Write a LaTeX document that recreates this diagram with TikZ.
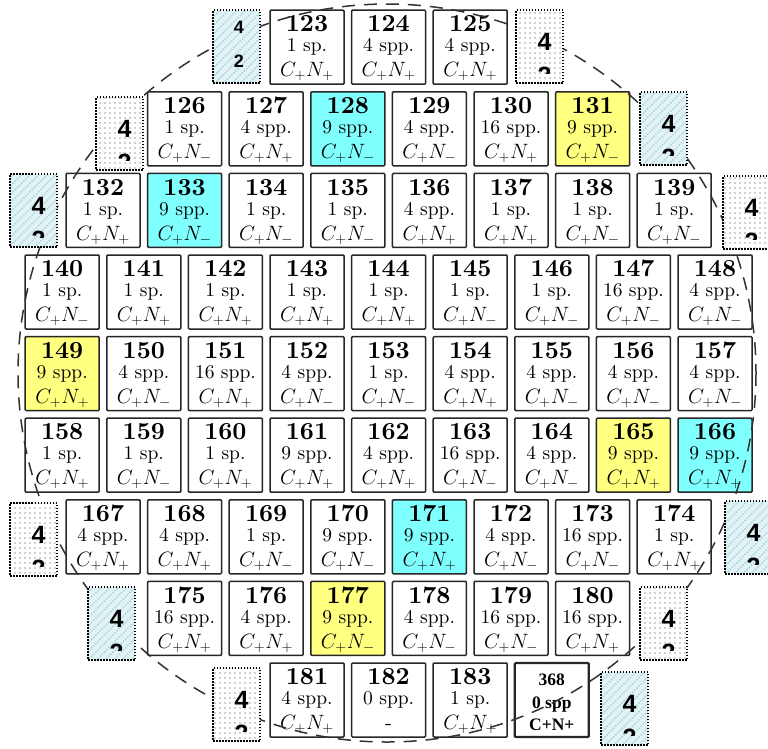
\documentclass[tikz,border=0pt]{standalone}
\usepackage{fontspec}
\setmainfont{lmroman10-regular.otf}[BoldFont=lmroman10-bold.otf, ItalicFont=lmroman10-italic.otf]
\newfontfamily\sansdig{Liberation Sans}
\newfontfamily\serifb{Liberation Serif}
\usetikzlibrary{patterns,patterns.meta}
\definecolor{cellcyan}{HTML}{80FFFF}
\definecolor{cellyellow}{HTML}{FFFF80}
\definecolor{hatchbg}{HTML}{E2F2F5}
\definecolor{hatchline}{HTML}{A6D5DE}
\definecolor{dotcol}{HTML}{A0A0A0}
\tikzset{
  cellbox/.style={draw=black!85, line width=1.5pt, minimum width=74pt, minimum height=74pt, inner sep=0pt, rounded corners=1pt},
  numtxt/.style={anchor=base, inner sep=0pt, font=\fontsize{24.5}{24.5}\selectfont\bfseries},
  spptxt/.style={anchor=base, inner sep=0pt, font=\fontsize{19.5}{19.5}\selectfont},
  cntxt/.style={anchor=base, inner sep=0pt, font=\fontsize{20.74}{20.74}\selectfont},
  spectxt/.style={anchor=base, inner sep=0pt, font=\serifb\bfseries\fontsize{17.5}{17.5}\selectfont},
  smallbox/.style={draw=black, line width=1.5pt, dash pattern=on 1.5pt off 1.5pt, minimum width=47pt, minimum height=73pt, inner sep=0pt},
  hatchbox/.style={smallbox, preaction={fill=hatchbg}, pattern={Lines[angle=45, distance=6pt, line width=1.5pt]}, pattern color=hatchline},
  dotbox/.style={smallbox, preaction={fill=white}, pattern={Dots[distance=5pt, radius=0.8pt]}, pattern color=dotcol},
  bigdig/.style={anchor=base, inner sep=0pt, font=\sansdig\bfseries\fontsize{25}{25}\selectfont},
  smalldig/.style={anchor=base, inner sep=0pt, font=\sansdig\bfseries\fontsize{18}{18}\selectfont},
  circ/.style={draw=black!80, line width=1.5pt, dash pattern=on 13pt off 9pt}
}
\newcommand\CNp{$C_+N_+$}
\newcommand\CNm{$C_+N_-$}
\newcommand\mycell[6]{%
  \node[cellbox, fill=#6] (c#1) at ({62.2+81.6*#2},{47.2+81.6*#3}) {};
  \node[numtxt] (n#1) at ([yshift=15.4pt]c#1.center) {#1};
  \node[spptxt] (s#1) at ([yshift=-4.6pt]c#1.center) {#4};
  \node[cntxt] (m#1) at ([yshift=-29.6pt]c#1.center) {#5};
}
\newcommand\fourtwo[4]{%
  \node[#4] (b#1) at ({#2+23.5},{#3+36.5}) {};
  \node[bigdig] (b#1a) at ({#2+28.5},{#3+40}) {4};
  \begin{scope}
    \clip (#2,#3) rectangle ({#2+47},{#3+63});
    \node[bigdig] (b#1b) at ({#2+28.5},{#3+74}) {2};
  \end{scope}
}
\begin{document}
\begin{tikzpicture}[x=1pt,y=-1pt]
\clip (0,0) rectangle (768,748);
\fill[white] (0,0) rectangle (768,748);
% row 0
\mycell{123}{3}{0}{1 sp.}{\CNp}{white}
\mycell{124}{4}{0}{4 spp.}{\CNp}{white}
\mycell{125}{5}{0}{4 spp.}{\CNp}{white}
% row 1
\mycell{126}{1.5}{1}{1 sp.}{\CNm}{white}
\mycell{127}{2.5}{1}{4 spp.}{\CNp}{white}
\mycell{128}{3.5}{1}{9 spp.}{\CNm}{cellcyan}
\mycell{129}{4.5}{1}{4 spp.}{\CNm}{white}
\mycell{130}{5.5}{1}{16 spp.}{\CNp}{white}
\mycell{131}{6.5}{1}{9 spp.}{\CNm}{cellyellow}
% row 2
\mycell{132}{0.5}{2}{1 sp.}{\CNp}{white}
\mycell{133}{1.5}{2}{9 spp.}{\CNm}{cellcyan}
\mycell{134}{2.5}{2}{1 sp.}{\CNm}{white}
\mycell{135}{3.5}{2}{1 sp.}{\CNm}{white}
\mycell{136}{4.5}{2}{4 spp.}{\CNp}{white}
\mycell{137}{5.5}{2}{1 sp.}{\CNp}{white}
\mycell{138}{6.5}{2}{1 sp.}{\CNm}{white}
\mycell{139}{7.5}{2}{1 sp.}{\CNm}{white}
% row 3
\mycell{140}{0}{3}{1 sp.}{\CNm}{white}
\mycell{141}{1}{3}{1 sp.}{\CNp}{white}
\mycell{142}{2}{3}{1 sp.}{\CNp}{white}
\mycell{143}{3}{3}{1 sp.}{\CNp}{white}
\mycell{144}{4}{3}{1 sp.}{\CNp}{white}
\mycell{145}{5}{3}{1 sp.}{\CNm}{white}
\mycell{146}{6}{3}{1 sp.}{\CNm}{white}
\mycell{147}{7}{3}{16 spp.}{\CNm}{white}
\mycell{148}{8}{3}{4 spp.}{\CNm}{white}
% row 4
\mycell{149}{0}{4}{9 spp.}{\CNp}{cellyellow}
\mycell{150}{1}{4}{4 spp.}{\CNm}{white}
\mycell{151}{2}{4}{16 spp.}{\CNp}{white}
\mycell{152}{3}{4}{4 spp.}{\CNm}{white}
\mycell{153}{4}{4}{1 sp.}{\CNm}{white}
\mycell{154}{5}{4}{4 spp.}{\CNp}{white}
\mycell{155}{6}{4}{4 spp.}{\CNm}{white}
\mycell{156}{7}{4}{4 spp.}{\CNm}{white}
\mycell{157}{8}{4}{4 spp.}{\CNm}{white}
% row 5
\mycell{158}{0}{5}{1 sp.}{\CNp}{white}
\mycell{159}{1}{5}{1 sp.}{\CNm}{white}
\mycell{160}{2}{5}{1 sp.}{\CNp}{white}
\mycell{161}{3}{5}{9 spp.}{\CNp}{white}
\mycell{162}{4}{5}{4 spp.}{\CNp}{white}
\mycell{163}{5}{5}{16 spp.}{\CNm}{white}
\mycell{164}{6}{5}{4 spp.}{\CNm}{white}
\mycell{165}{7}{5}{9 spp.}{\CNp}{cellyellow}
\mycell{166}{8}{5}{9 spp.}{\CNp}{cellcyan}
% row 6
\mycell{167}{0.5}{6}{4 spp.}{\CNp}{white}
\mycell{168}{1.5}{6}{4 spp.}{\CNp}{white}
\mycell{169}{2.5}{6}{1 sp.}{\CNm}{white}
\mycell{170}{3.5}{6}{9 spp.}{\CNm}{white}
\mycell{171}{4.5}{6}{9 spp.}{\CNp}{cellcyan}
\mycell{172}{5.5}{6}{4 spp.}{\CNm}{white}
\mycell{173}{6.5}{6}{16 spp.}{\CNm}{white}
\mycell{174}{7.5}{6}{1 sp.}{\CNp}{white}
% row 7
\mycell{175}{1.5}{7}{16 spp.}{\CNp}{white}
\mycell{176}{2.5}{7}{4 spp.}{\CNp}{white}
\mycell{177}{3.5}{7}{9 spp.}{\CNm}{cellyellow}
\mycell{178}{4.5}{7}{4 spp.}{\CNm}{white}
\mycell{179}{5.5}{7}{16 spp.}{\CNm}{white}
\mycell{180}{6.5}{7}{16 spp.}{\CNp}{white}
% row 8
\mycell{181}{3}{8}{4 spp.}{\CNp}{white}
\mycell{182}{4}{8}{0 spp.}{-}{white}
\mycell{183}{5}{8}{1 sp.}{\CNp}{white}
\node[cellbox, fill=white, line width=2.2pt] (c368) at ({62.2+81.6*6},{47.2+81.6*8}) {};
\node[spectxt] (n368) at ([yshift=14.8pt]c368.center) {368};
\node[spectxt] (s368) at ([yshift=-8.5pt]c368.center) {0 spp};
\node[spectxt] (m368) at ([yshift=-30pt]c368.center) {C+N+};
% dashed circle
\draw[circ] (387,373) circle [radius=369];
% small boxes
\node[hatchbox] (b1) at ({213+23.5},{10+36.5}) {};
\node[smalldig] (b1a) at (239,33) {4};
\node[smalldig] (b1b) at (239,67) {2};
\fourtwo{2}{516}{10}{dotbox}
\fourtwo{3}{640}{92}{hatchbox}
\fourtwo{4}{96}{97}{dotbox}
\fourtwo{5}{10}{174}{hatchbox}
\fourtwo{6}{723}{176}{dotbox}
\fourtwo{7}{10}{503}{dotbox}
\fourtwo{8}{725}{501}{hatchbox}
\fourtwo{9}{88}{587}{hatchbox}
\fourtwo{10}{640}{587}{dotbox}
\fourtwo{11}{213}{668}{dotbox}
\fourtwo{12}{601}{672}{hatchbox}
\end{tikzpicture}
\end{document}
